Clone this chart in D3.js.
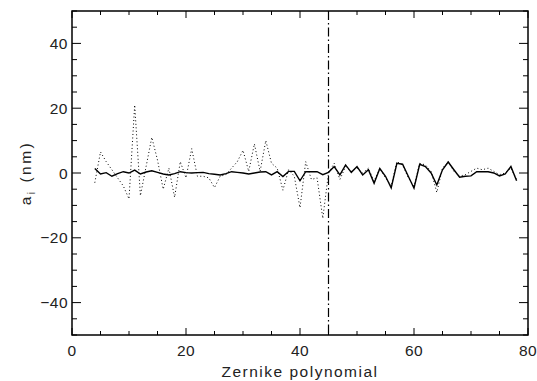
<!DOCTYPE html>
<html><head><meta charset="utf-8">
<script src="https://cdn.jsdelivr.net/npm/d3@7"></script>
<style>body{margin:0;background:#fff}svg{display:block}text{font-family:"Liberation Sans",Arial,sans-serif;fill:#222}</style>
</head><body><svg id="c" width="537" height="381"></svg>
<script>
const modes = d3.range(4, 79);
const solidVals = [1.4,-0.3,0.1,-1,-0.2,0.4,0,0.9,-0.3,0.3,0.7,0.2,-0.3,-0.6,-0.2,0.4,0.1,0,0.1,0.2,-0.2,-0.4,-0.6,-0.2,0.4,0.2,0,-0.3,0,0.3,0.4,-0.6,0.4,-1.1,0.5,0.5,-2.4,0.4,0.4,0.4,-0.5,0.2,
2,-0.6,2.5,0.2,2,-0.6,1,-3.2,1.4,-1,-4.6,3,2.7,-1,-4.7,2.7,2,0,-3.7,1,3.4,1,-1.3,-1,-0.9,0.4,0.4,0.4,0,-0.9,-0.3,2,-2.4];
const dottedVals = [-3,6.5,3.5,1,-1.5,-4,-8,21,-7,2,11,4,-5,1.5,-7.5,3.5,-1.5,7.5,-1,-1,-1.5,-4.5,-1,-0.5,1.5,3.5,7,0.5,9,0.5,10,3,1.5,-5.3,1,-1,-10.7,3.5,-2,-1.5,-14,0,
3,-2,2,0.5,1.5,0,1.5,-2.5,1.5,-1.5,-4,3.5,2.5,-1.5,-4,3,2.5,0.5,-6,1.5,3.5,0.5,-1,-0.5,0.5,1.5,1,1.5,0.5,-0.5,0,1.5,-2];
const xTicks = [0,20,40,60,80];
const yTicks = [-40,-20,0,20,40];
const cutoff = 45;

const svg = d3.select("#c");
const L=72,R=528,T=11,B=335;
const x = d3.scaleLinear().domain([0,80]).range([L,R]);
const y = d3.scaleLinear().domain([-50,50]).range([B,T]);

const ax = svg.append("g").attr("stroke","#000").attr("stroke-width",1);
svg.append("rect").attr("x",L).attr("y",T).attr("width",R-L).attr("height",B-T)
  .attr("fill","none").attr("stroke","#000").attr("stroke-width",1.5);
const xMinor = d3.range(0,81,5), yMinor = d3.range(-50,51,5);
xMinor.forEach(v=>{
  const len = v%20===0?7:4;
  ax.append("line").attr("x1",x(v)).attr("x2",x(v)).attr("y1",B).attr("y2",B-len);
  ax.append("line").attr("x1",x(v)).attr("x2",x(v)).attr("y1",T).attr("y2",T+len);
});
yMinor.forEach(v=>{
  const len = v%20===0?9:5;
  ax.append("line").attr("y1",y(v)).attr("y2",y(v)).attr("x1",L).attr("x2",L+len);
  ax.append("line").attr("y1",y(v)).attr("y2",y(v)).attr("x1",R).attr("x2",R-len);
});
xTicks.forEach(v=>{
  svg.append("text").attr("x",x(v)).attr("y",356).attr("text-anchor","middle")
    .attr("font-size",15.5).attr("letter-spacing","0.5").text(v);
});
yTicks.forEach(v=>{
  svg.append("text").attr("x",68).attr("y",y(v)+5.5).attr("text-anchor","end")
    .attr("font-size",15.5).attr("letter-spacing","0.5").text(v<0?"\u2212"+Math.abs(v):v);
});
svg.append("text").attr("x",(L+R)/2).attr("y",377).attr("text-anchor","middle")
  .attr("font-size",15.5).attr("letter-spacing","1.5").text("Zernike polynomial");
const yl = svg.append("text").attr("transform",`translate(31,${y(0)}) rotate(-90)`)
  .attr("text-anchor","middle").attr("font-size",15.5).attr("letter-spacing","2.5");
yl.append("tspan").text("a");
yl.append("tspan").attr("font-size",10).attr("dy",4).text("i");
yl.append("tspan").attr("dy",-4).text(" (nm)");

const line = d3.line().x((d,i)=>x(modes[i])).y(d=>y(d));
svg.append("path").datum(dottedVals).attr("d",line).attr("fill","none")
  .attr("stroke","#000").attr("stroke-width",1).attr("stroke-dasharray","1,2.5");
svg.append("path").datum(solidVals).attr("d",line).attr("fill","none")
  .attr("stroke","#000").attr("stroke-width",1.4);
svg.append("line").attr("x1",x(cutoff)).attr("x2",x(cutoff)).attr("y1",T).attr("y2",B)
  .attr("stroke","#000").attr("stroke-width",1.2).attr("stroke-dasharray","9,3,1.5,3");
</script></body></html>
